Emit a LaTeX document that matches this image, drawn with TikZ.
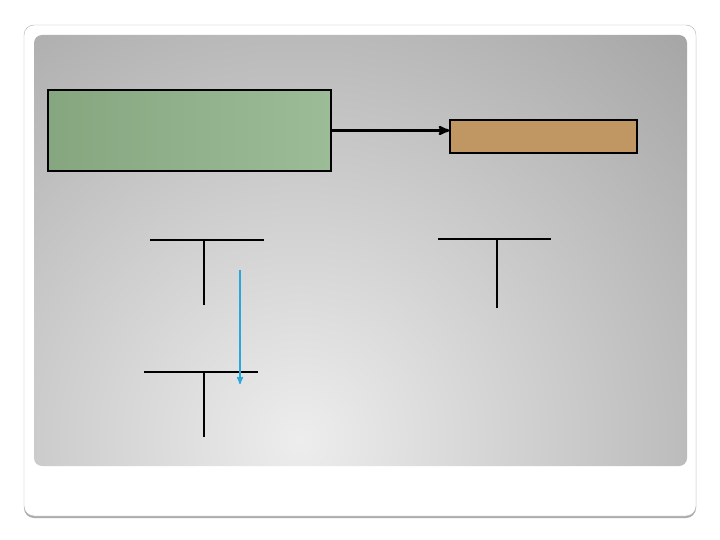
\documentclass[tikz,border=0pt]{standalone}
\usepackage{tikz}
\usetikzlibrary{arrows}
\definecolor{greenleft}{RGB}{134,166,128}
\definecolor{greenright}{RGB}{156,188,152}
\definecolor{slidebrown}{RGB}{192,150,98}
\definecolor{slideblue}{RGB}{40,168,216}
\begin{document}
\begin{tikzpicture}[x=1pt,y=-1pt,>=stealth',
  box/.style={draw=black,line width=1.5pt,inner sep=0pt},
  tee/.style={line width=1.4pt}]
  \useasboundingbox (0,0) rectangle (720,540);
  \fill[white] (0,0) rectangle (720,540);

  % frame
  \fill[gray!65,rounded corners=10pt] (24,27) rectangle (696,518);
  \filldraw[fill=white,draw=gray!60,rounded corners=10pt] (24,25) rectangle (696,516);
  \begin{scope}
    \clip[rounded corners=8pt] (34,35) rectangle (687,466);
    \shade[inner color=gray!14,outer color=gray!70] (300,440) circle (560pt);
  \end{scope}

  \node[box,left color=greenleft,right color=greenright,minimum width=283pt,minimum height=81pt] (green) at (189.5,130.5) {};
  \node[box,fill=slidebrown,minimum width=187pt,minimum height=33pt] (brown) at (543.5,136.5) {};

  \draw[->,line width=2.5pt] (green.east) -- (green.east -| brown.west);

  % tees
  \draw[tee] (150,240) -- (264,240) (204,240) -- (204,305);
  \draw[tee] (438,239) -- (551,239) (497,239) -- (497,308);
  \draw[tee] (144,372) -- (258,372) (204,372) -- (204,437);

  \coordinate (bluetop) at (240,270);
  \coordinate (bluebot) at (240,384);
  \draw[->,slideblue,line width=1.5pt] (bluetop) -- (bluebot);
\end{tikzpicture}
\end{document}
